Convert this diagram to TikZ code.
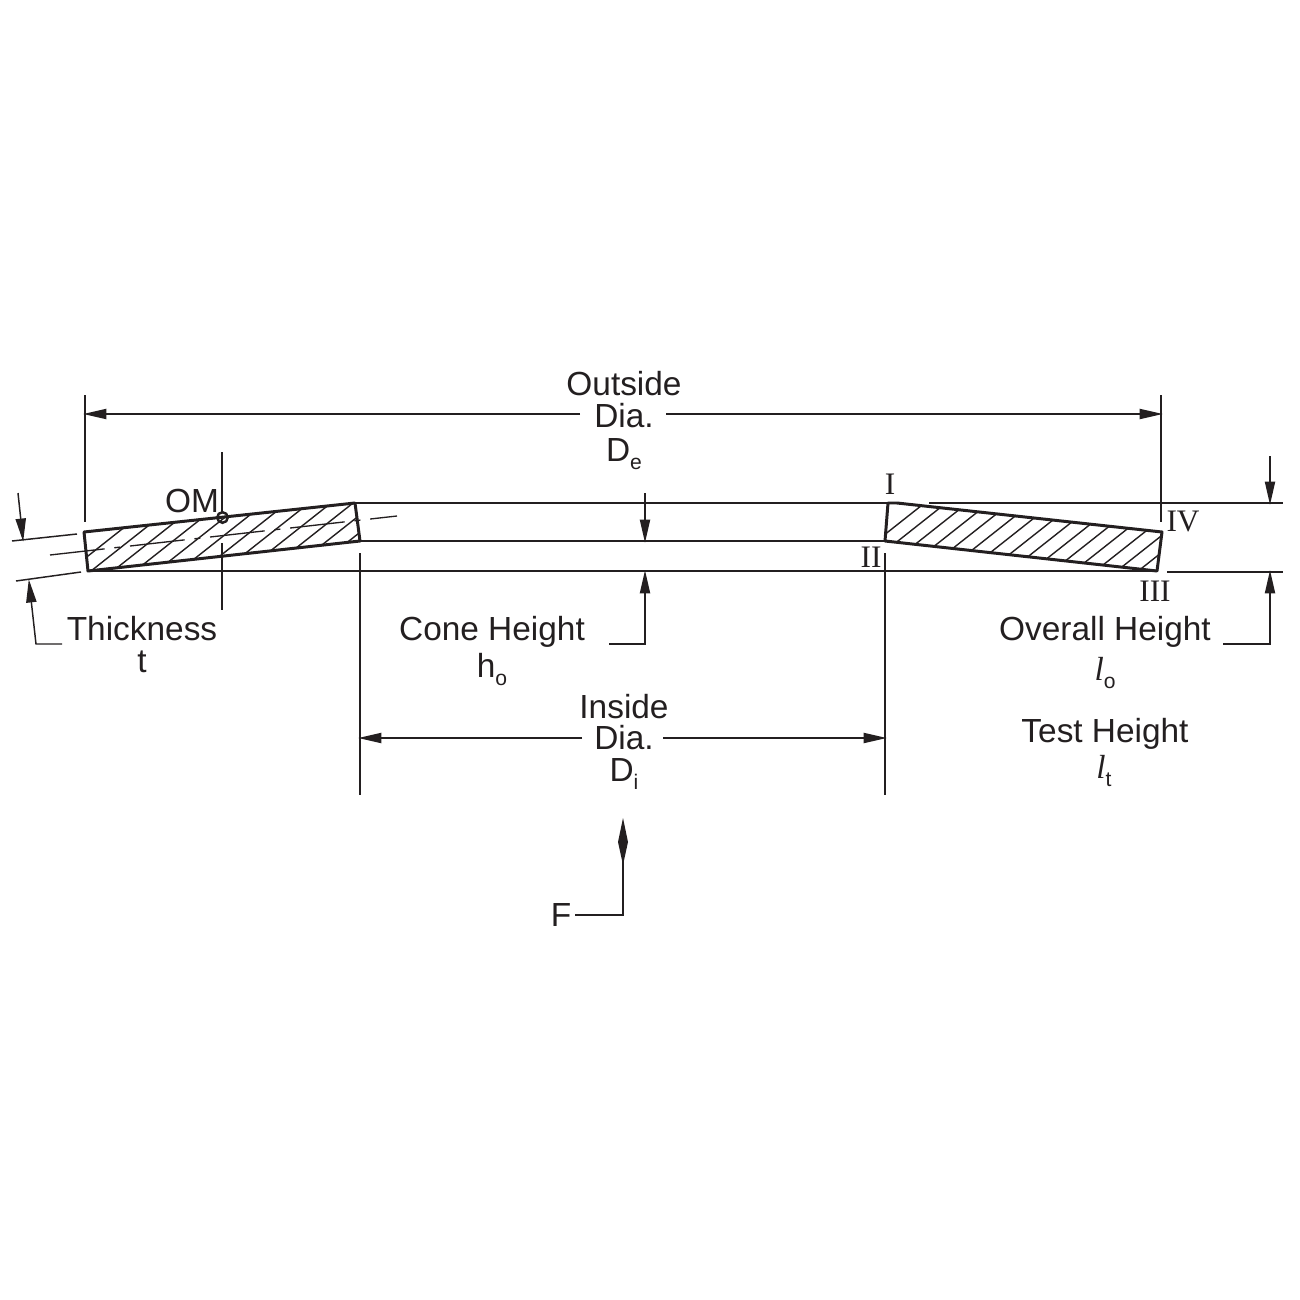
\documentclass[tikz,border=0pt]{standalone}
\usepackage{xcolor}
\usepackage{fontspec}
\setmainfont{Liberation Sans}
\newfontfamily\romanfont{Liberation Serif}
\usepackage{tikz}
\usetikzlibrary{arrows.meta}
\definecolor{inkcol}{HTML}{231F20}
\newcommand{\subtxt}[1]{\raisebox{-2.5pt}{\fontsize{6}{7}\selectfont #1}}
\newcommand{\heightl}{{\romanfont\itshape l}}
\tikzset{edge/.style = {-{Triangle[length=6.6pt,width=2.9pt]},shorten >=-0.5pt}}
\tikzset{
  lbl/.style = {anchor=base,inner sep=0pt,text=inkcol,font=\fontsize{9.5}{11}\selectfont},
  romlbl/.style = {anchor=base,inner sep=0pt,text=inkcol,font=\romanfont\fontsize{8.9}{10}\selectfont},
  outline/.style = {draw=inkcol,line width=0.85pt,line join=round},
  plate line/.style = {draw=inkcol,line width=0.7pt},
  thin line/.style = {draw=inkcol,line width=0.42pt},
  hatch line/.style = {draw=inkcol,line width=0.4pt},
  center line/.style = {draw=inkcol,line width=0.38pt,dash pattern=on 15.6pt off 2.8pt on 1.7pt off 2.8pt}
}

\begin{document}
\begin{tikzpicture}[x=0.01cm,y=-0.01cm]
  \useasboundingbox (0,0) rectangle (1300,1300);

  % corners of the section
  \coordinate (la) at (84,532);
  \coordinate (lb) at (355,503);
  \coordinate (lc) at (360,541);
  \coordinate (ld) at (88,571);
  \coordinate (ra) at (888,503);
  \coordinate (rt) at (897,503);
  \coordinate (rb) at (1162,532);
  \coordinate (rc) at (1157,571);
  \coordinate (rd) at (885,541);

  % hatching
  \begin{scope}
    \clip (la) -- (lb) -- (lc) -- (ld) -- cycle;
    \foreach \k in {-1,...,13}
      \draw[hatch line] ({91+22*\k},571) -- ++(100,-79);
  \end{scope}
  \begin{scope}
    \clip (ra) -- (rt) -- (rb) -- (rc) -- (rd) -- cycle;
    \foreach \k in {-1,...,15}
      \draw[hatch line] ({860+21.4*\k},571) -- ++(100,-79);
  \end{scope}

  \draw[center line] (50,555) -- (397,516);

  \draw[outline] (la) -- (lb) -- (lc) -- (ld) -- cycle;
  \draw[outline] (ra) -- (rt) -- (rb) -- (rc) -- (rd) -- cycle;
  \draw[plate line] (lb) -- (ra);
  \draw[plate line] (lc) -- (rd);
  \draw[outline] (ld) -- (rc);

  % extension lines
  \draw[thin line] (85,395) -- (85,522);
  \draw[thin line] (1161,395) -- (1161,522);
  \draw[thin line] (360,553) -- (360,795);
  \draw[thin line] (885,553) -- (885,795);
  \draw[thin line] (222,452) -- (222,512);
  \draw[thin line] (222,543) -- (222,610);
  \draw[thin line] (929,503) -- (1283,503);
  \draw[thin line] (1167,572) -- (1283,572);
  \draw[thin line] (12,541) -- (77,534);
  \draw[thin line] (16,581) -- (81,572);

  \node[draw=inkcol,line width=0.7pt,circle,minimum size=3pt,inner sep=0pt] (om) at (222.5,517.5) {};

  % labels
  \node[lbl] (out1) at (624,395) {Outside};
  \node[lbl] (out2) at (624,427) {Dia.};
  \node[lbl] (out3) at (624,461) {D\subtxt{e}};
  \node[lbl] (omlbl) at (192,512) {OM};
  \node[lbl] (th1) at (142,640) {Thickness};
  \node[lbl] (th2) at (142,672) {t};
  \node[lbl] (cone1) at (492,640) {Cone Height};
  \node[lbl] (cone2) at (492,677) {h\subtxt{o}};
  \node[lbl] (over1) at (1105,640) {Overall Height};
  \node[lbl] (over2) at (1105,680) {\heightl\subtxt{o}};
  \node[lbl] (test1) at (1105,742) {Test Height};
  \node[lbl] (test2) at (1104,778) {\heightl\subtxt{t}};
  \node[lbl] (in1) at (624,718) {Inside};
  \node[lbl] (in2) at (624,749) {Dia.};
  \node[lbl] (in3) at (624,781) {D\subtxt{i}};
  \node[lbl] (force) at (561,926) {F};
  \node[romlbl] (p1) at (890,494) {I};
  \node[romlbl] (p2) at (871,567) {II};
  \node[romlbl] (p3) at (1155,601) {III};
  \node[romlbl] (p4) at (1183,531) {IV};

  % dimension arrows
  \draw[thin line,edge] (580,414) -- (85,414);
  \draw[thin line,edge] (666,414) -- (1161,414);
  \draw[thin line,edge] (582,738) -- (360,738);
  \draw[thin line,edge] (663,738) -- (885,738);
  \draw[thin line,edge] (645,493) -- (645,541);
  \draw[thin line,edge] (609,644) -- (645,644) -- (645,572);
  \draw[thin line,edge] (1270,456) -- (1270,503);
  \draw[thin line,edge] (1223,644) -- (1270,644) -- (1270,572);
  \draw[thin line,edge] (18,493) -- (23,540);
  \draw[thin line,edge] (62,644) -- (36,644) -- (29,581);

  % force arrow
  \draw[thin line] (575,915) -- (623,915) -- (623,860);
  \fill[inkcol] (623,818) -- (628,842) -- (623,865) -- (618,842) -- cycle;
\end{tikzpicture}
\end{document}
